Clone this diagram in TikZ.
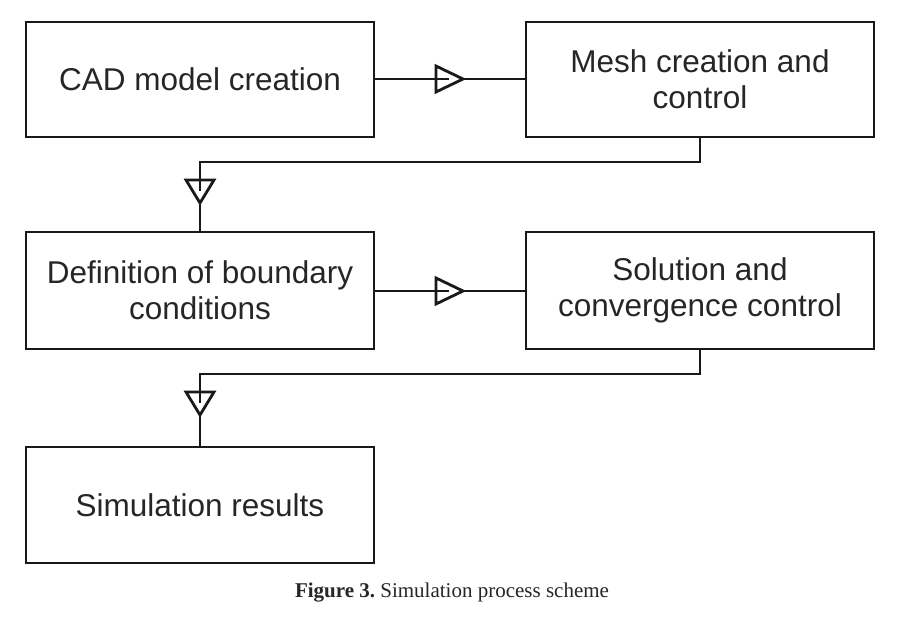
\documentclass[tikz,border=0pt]{standalone}
\usepackage{fontspec}
\setmainfont{Liberation Sans}
\newfontfamily\capfont{Liberation Serif}
\begin{document}
\begin{tikzpicture}[x=1pt,y=-1pt,
  box/.style={draw=black!90, line width=2.8pt, minimum width=348pt, minimum height=115pt, inner sep=0pt, align=center, font=\fontsize{31.5}{36}\selectfont, text=black!85},
  conn/.style={draw=black!90, line width=2.8pt},
  tri/.style={draw=black!90, line width=2.8pt, line join=miter}]
\useasboundingbox (0,0) rectangle (912,620);
\fill[white] (0,0) rectangle (912,620);
\node[box] (cad) at (200,79.5) {CAD model creation};
\node[box] (mesh) at (700,79.5) {Mesh creation and\\control};
\node[box, minimum height=117pt] (bc) at (200,290.5) {Definition of boundary\\conditions};
\node[box, minimum height=117pt] (sol) at (700,290.5) {Solution and\\convergence control};
\node[box, minimum height=116pt] (res) at (200,505) {Simulation results};
% arrow 1
\coordinate (t1) at (463,79);
\coordinate (m1) at (449,79);
\draw[conn] (cad.east |- t1) -- (m1);
\draw[tri] (t1) -- ++(-27,-13) -- ++(0,26) -- cycle;
\draw[conn] (t1) -- (mesh.west |- t1);
% arrow 2
\coordinate (k2) at (700,162);
\coordinate (t2) at (200,203);
\coordinate (m2) at (200,191);
\draw[conn] (mesh.south -| k2) -- (k2) -- (k2 -| m2) -- (m2);
\draw[tri] (t2) -- ++(-14,-23) -- ++(28,0) -- cycle;
\draw[conn] (t2) -- (bc.north);
% arrow 3
\coordinate (t3) at (463,291);
\coordinate (m3) at (449,291);
\draw[conn] (bc.east |- t3) -- (m3);
\draw[tri] (t3) -- ++(-27,-13) -- ++(0,26) -- cycle;
\draw[conn] (t3) -- (sol.west |- t3);
% arrow 4
\coordinate (k4) at (700,374);
\coordinate (t4) at (200,415);
\coordinate (m4) at (200,403);
\draw[conn] (sol.south -| k4) -- (k4) -- (k4 -| m4) -- (m4);
\draw[tri] (t4) -- ++(-14,-23) -- ++(28,0) -- cycle;
\draw[conn] (t4) -- (res.north);
% caption
\node[font=\capfont\fontsize{21}{25}\selectfont, text=black!85] (cap) at (452,593) {\frenchspacing\textbf{Figure 3.} Simulation process scheme};
\end{tikzpicture}
\end{document}
